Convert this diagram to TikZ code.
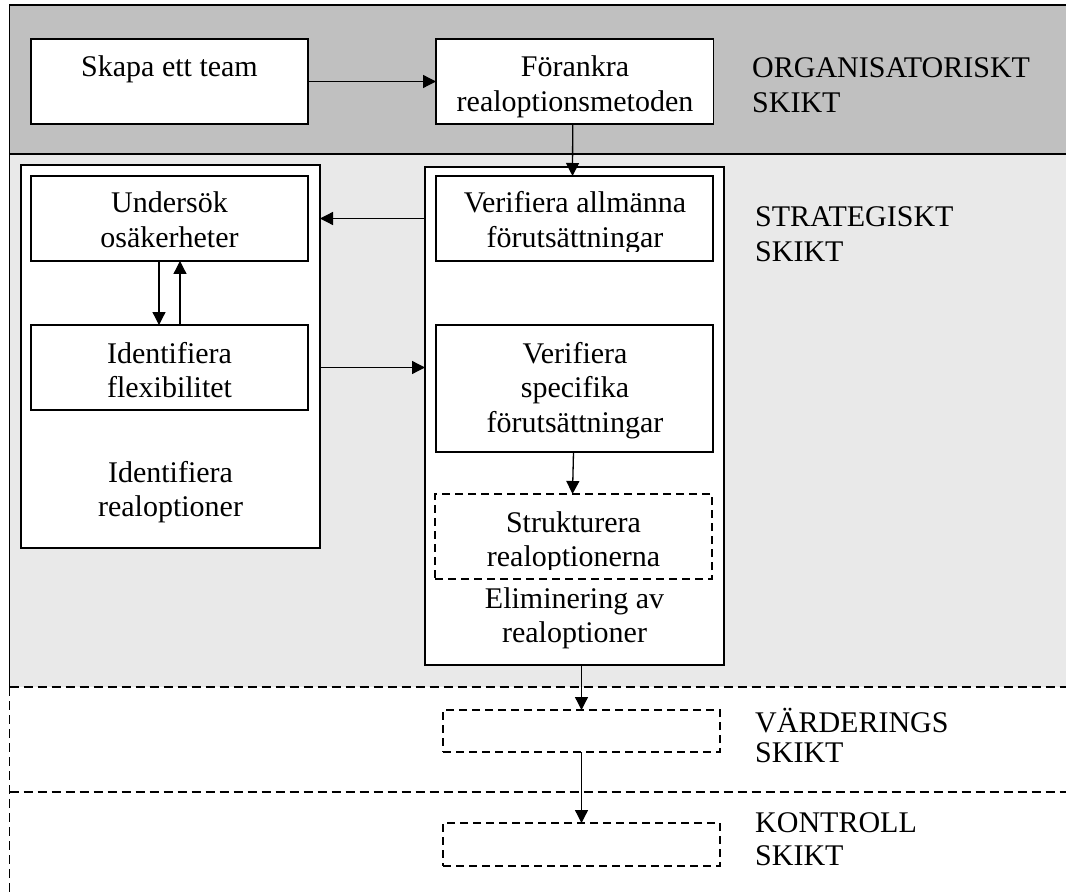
\documentclass[tikz,border=0pt]{standalone}
\usepackage{fontspec}
\setmainfont{Liberation Serif}
\usetikzlibrary{arrows.meta}
\newcommand{\mylinesc}[1]{\begin{tabular}[t]{@{}c@{}}#1\end{tabular}}
\newcommand{\mylinesl}[1]{\begin{tabular}[t]{@{}l@{}}#1\end{tabular}}
\definecolor{orgband}{HTML}{C0C0C0}
\definecolor{strband}{HTML}{E9E9E9}
\tikzset{
  boxs/.style={draw=black, line width=1.6pt, fill=white, inner sep=0pt, outer sep=0pt, anchor=north west, minimum width=277pt, minimum height=85pt},
  dboxs/.style={boxs, line width=1.3pt, dash pattern=on 8pt off 5pt},
  txt/.style={inner sep=0pt, anchor=base, font=\fontsize{30pt}{34.5pt}\selectfont},
  ltxt/.style={txt, anchor=base west},
  arr/.style={-{Triangle[length=13pt,width=13pt]}, line width=1.3pt},
  bline/.style={line width=1.6pt},
  dline/.style={line width=1.3pt, dash pattern=on 9pt off 5pt},
}
\begin{document}
\begin{tikzpicture}[x=1pt,y=-1pt]
\useasboundingbox (0,0) rectangle (1066,896);
% bands
\fill[orgband] (9.6,5) rectangle (1066,154);
\fill[strband] (9.6,154) rectangle (1066,687);
\draw[bline] (1066,5) -- (9.6,5) -- (9.6,687);
\draw[bline] (9.6,154) -- (1066,154);
\draw[dline] (9.6,687) -- (1066,687);
\draw[dline] (9.6,687) -- (9.6,896);
\draw[dline] (9.6,792) -- (1066,792);
% boxes
\node[boxs, minimum width=299pt, minimum height=383pt] (lb) at (21,165) {};
\node[boxs, minimum width=299pt, minimum height=498pt] (rb) at (425,167) {};
\node[boxs] (sk) at (31,39) {};
\node[boxs, minimum width=277.5pt] (fr) at (436,39) {};
\node[boxs] (us) at (31,176) {};
\node[boxs] (if) at (31,325) {};
\node[boxs] (va) at (436,176) {};
\node[boxs, minimum height=127pt] (vs) at (436,325) {};
\node[dboxs] (st) at (435,494) {};
\node[dboxs, minimum height=42pt] (vd) at (443,710) {};
\node[dboxs, minimum height=43pt] (ko) at (443,823) {};
% texts
\node[txt] (tsk) at (169.5,77) {Skapa ett team};
\node[txt] (tfr) at (575,77) {\mylinesc{Förankra\\realoptionsmetoden}};
\node[ltxt] (torg) at (752,78) {\mylinesl{ORGANISATORISKT\\SKIKT}};
\node[txt] (tus) at (169.5,213) {\mylinesc{Undersök\\osäkerheter}};
\begin{scope}
\clip (va.north west) rectangle (va.east |- 0,252);
\node[txt] (tva) at (575,213) {\mylinesc{Verifiera allmänna\\förutsättningar}};
\end{scope}
\node[ltxt] (tstr) at (755,227) {\mylinesl{STRATEGISKT\\SKIKT}};
\node[txt] (tif) at (169.5,363) {\mylinesc{Identifiera\\flexibilitet}};
\node[txt] (tir) at (170.5,482) {\mylinesc{Identifiera\\realoptioner}};
\node[txt] (tvs) at (575,363) {\mylinesc{Verifiera\\specifika\\förutsättningar}};
\begin{scope}
\clip (st.north west) rectangle (st.east |- 0,569);
\node[txt] (tst) at (573.5,532) {\mylinesc{Strukturera\\realoptionerna}};
\end{scope}
\node[txt] (tel) at (574.5,608) {\mylinesc{Eliminering av\\realoptioner}};
\node[ltxt] (tvd) at (755,732) {\mylinesl{VÄRDERINGS\\[-4.5pt]SKIKT}};
\node[ltxt] (tko) at (755,832) {\mylinesl{KONTROLL\\[-1.5pt]SKIKT}};
% arrows
\draw[arr] (sk.east) -- (fr.west);
\draw[arr] ([xshift=-2pt]fr.south) -- ([xshift=-2pt]va.north);
\draw[arr] (rb.west |- va.west) -- (lb.east |- va.west);
\draw[arr] ([xshift=-10.5pt]us.south) -- ([xshift=-10.5pt]if.north);
\draw[arr] ([xshift=10.5pt]if.north) -- ([xshift=10.5pt]us.south);
\draw[arr] (lb.east |- if.west) -- (rb.west |- if.west);
\draw[arr] ([xshift=-1pt]vs.south) -- ([xshift=-1pt]st.north);
\draw[arr] (vd.north |- rb.south) -- (vd.north);
\draw[arr] (vd.south) -- (ko.north);
\end{tikzpicture}
\end{document}
